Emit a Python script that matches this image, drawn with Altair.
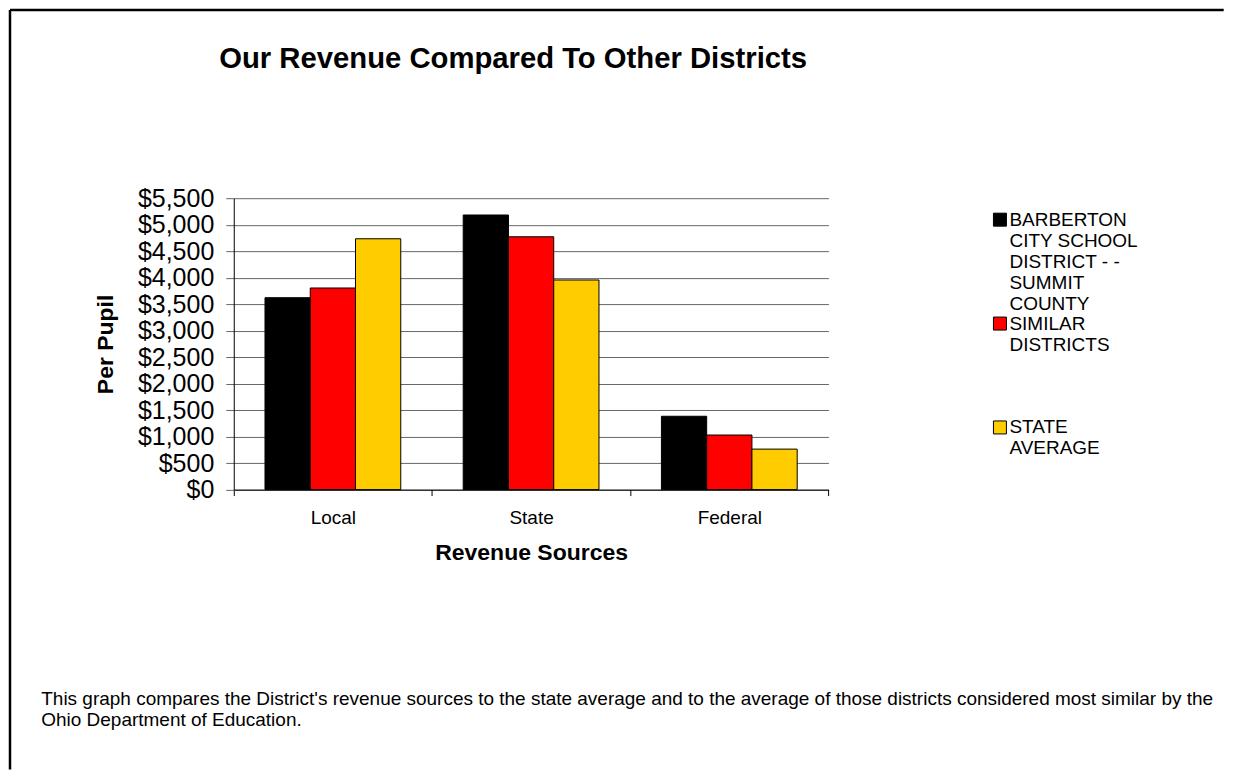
import altair as alt
import pandas as pd

# ---- data ----
CATEGORIES = ["Local", "State", "Federal"]
SERIES = [
    "BARBERTON CITY SCHOOL DISTRICT - - SUMMIT COUNTY",
    "SIMILAR DISTRICTS",
    "STATE AVERAGE",
]
LEGEND_LINES = [
    ["BARBERTON", "CITY SCHOOL", "DISTRICT - -", "SUMMIT", "COUNTY"],
    ["SIMILAR", "DISTRICTS", "", "", ""],
    ["STATE", "AVERAGE", "", "", ""],
]
BARBERTON = [3622, 5183, 1384]
SIMILAR = [3805, 4772, 1030]
STATE_AVG = [4734, 3956, 764]
COLORS = ["#000000", "#FF0000", "#FFCC00"]
Y_TICKS = [0, 500, 1000, 1500, 2000, 2500, 3000, 3500, 4000, 4500, 5000, 5500]
TITLE = "Our Revenue Compared To Other Districts"
FOOTNOTE = [
    "This graph compares the District's revenue sources to the state average and to the average of those districts considered most similar by the",
    "Ohio Department of Education.",
]

rows = []
for s, vals in zip(SERIES, [BARBERTON, SIMILAR, STATE_AVG]):
    for c, v in zip(CATEGORIES, vals):
        rows.append({"source": c, "series": s, "value": v})
df = pd.DataFrame(rows)

def js_list(lines):
    return "[" + ",".join("'" + l.replace("'", "\\'") + "'" for l in lines) + "]"

label_expr = ""
for s, lines in zip(SERIES, LEGEND_LINES):
    label_expr += f"datum.label == '{s}' ? {js_list(lines)} : "
label_expr += "datum.label"

W, H = 595.3, 291.7

bars = alt.Chart(df).mark_bar(stroke="black", strokeWidth=1).encode(
    x=alt.X(
        "source:N",
        sort=CATEGORIES,
        scale=alt.Scale(paddingInner=0, paddingOuter=0),
        axis=alt.Axis(
            title="Revenue Sources",
            labelAngle=0,
            tickBand="extent",
            labelFontSize=19,
            labelPadding=13,
            labelColor="black",
            tickSize=6,
            tickColor="black",
            domainColor="black",
            grid=False,
            titleFontSize=23,
            titleFontWeight="bold",
            titleColor="black",
            titlePadding=14,
        ),
    ),
    xOffset=alt.XOffset(
        "series:N", sort=SERIES, scale=alt.Scale(paddingInner=0, paddingOuter=0.69)
    ),
    y=alt.Y(
        "value:Q",
        scale=alt.Scale(domain=[0, 5500], nice=False),
        axis=alt.Axis(
            values=Y_TICKS,
            format="$,.0f",
            title="Per Pupil",
            labelFontSize=25,
            labelPadding=12,
            labelColor="black",
            labelOverlap=False,
            tickSize=8,
            tickColor="#666666",
            gridColor="#666666",
            domainColor="black",
            titleFontSize=23,
            titleFontWeight="bold",
            titleColor="black",
            titlePadding=20,
        ),
    ),
    fill=alt.Fill(
        "series:N",
        sort=SERIES,
        scale=alt.Scale(domain=SERIES, range=COLORS),
        legend=alt.Legend(
            title=None,
            orient="none",
            legendX=757.5,
            legendY=12,
            symbolType="square",
            symbolSize=169,
            symbolStrokeColor="black",
            symbolStrokeWidth=1,
            labelFontSize=19,
            labelColor="black",
            labelLimit=0,
            labelOffset=0,
            labelBaseline="middle",
            labelExpr=label_expr,
            rowPadding=0,
            padding=0,
        ),
    ),
)

one = pd.DataFrame({"k": [0]})
frame_left = alt.Chart(one).mark_rule(color="black", strokeWidth=2.5).encode(
    x=alt.value(-224), y=alt.value(-188.3), y2=alt.value(572)
)
frame_top = alt.Chart(one).mark_rule(color="black", strokeWidth=2.5).encode(
    x=alt.value(-224), x2=alt.value(991), y=alt.value(-188.3)
)
title = alt.Chart(one).mark_text(
    align="center", baseline="middle", fontSize=29.3, fontWeight="bold", color="black", text=TITLE
).encode(x=alt.value(W / 2 - 18), y=alt.value(-139))
foot = alt.Chart(one).mark_text(
    align="left", baseline="top", fontSize=19, lineHeight=21, color="black", text=FOOTNOTE
).encode(x=alt.value(-192.7), y=alt.value(492.5))

chart = alt.layer(bars, frame_left, frame_top, title, foot).properties(
    width=W,
    height=H,
    padding=0,
    background="white",
).configure(font="Liberation Sans").configure_view(stroke=None)

chart.save("out.html", embed_options={"renderer": "svg", "actions": False})
